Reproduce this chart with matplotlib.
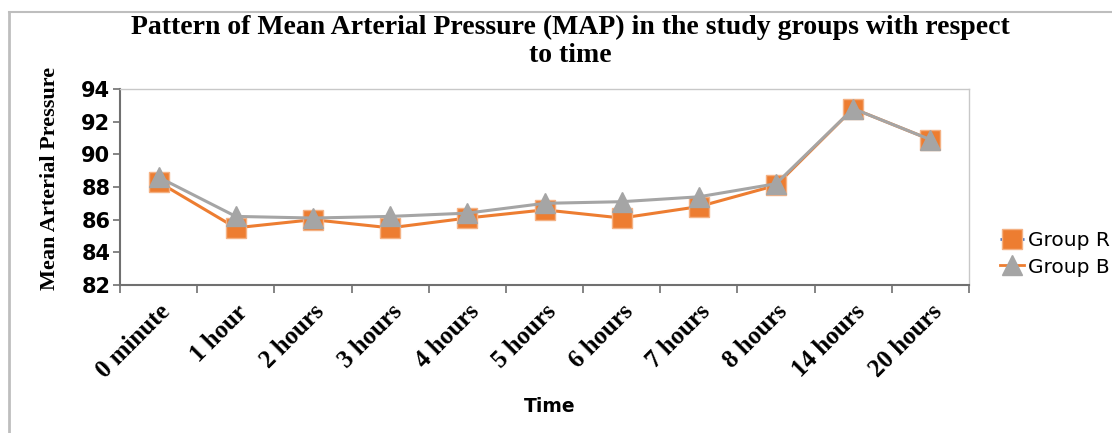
import matplotlib.pyplot as plt
from matplotlib.lines import Line2D
import numpy as np

# data
times = ["0 minute", "1 hour", "2 hours", "3 hours", "4 hours", "5 hours",
         "6 hours", "7 hours", "8 hours", "14 hours", "20 hours"]
group_r = [88.3, 85.5, 86.0, 85.5, 86.1, 86.6, 86.1, 86.8, 88.1, 92.8, 90.9]
group_b = [88.6, 86.2, 86.1, 86.2, 86.4, 87.0, 87.1, 87.4, 88.2, 92.8, 90.9]
y_ticks = [82, 84, 86, 88, 90, 92, 94]

orange = "#ED7D31"
grey = "#A5A5A5"
blue = "#4472C4"
serif = ["Liberation Serif", "DejaVu Serif"]

fig = plt.figure(figsize=(11.12, 4.33), dpi=100)
ax = fig.add_axes([120 / 1112, 1 - 285 / 433, 849 / 1112, 196 / 433])

x = np.arange(len(times))
ax.plot(x, group_r, color=orange, lw=2.2, marker="s", ms=15,
        mfc=orange, mec="#F4B183", mew=1, zorder=3)
ax.plot(x, group_b, color=grey, lw=2.2, marker="^", ms=15,
        mfc=grey, mec=grey, zorder=4)

ax.set_xlim(-0.5, len(times) - 0.5)
ax.set_ylim(82, 94)
ax.set_yticks(y_ticks)
ax.set_yticklabels([str(v) for v in y_ticks], fontweight="bold", fontsize=15)

ax.set_xticks(x)
ax.set_xticklabels(times, rotation=45, ha="right", rotation_mode="anchor",
                   fontweight="bold", fontsize=18, family=serif)
ax.set_xticks(np.arange(-0.5, len(times)), minor=True)
ax.tick_params(axis="x", which="major", length=0, pad=11)
ax.tick_params(axis="x", which="minor", length=6, color="#707070", width=1.2)
ax.tick_params(axis="y", length=5, color="#707070", width=1.2, pad=2)

for s in ["left", "bottom"]:
    ax.spines[s].set_color("#707070")
    ax.spines[s].set_linewidth(1.5)
for s in ["top", "right"]:
    ax.spines[s].set_color("#C8C8C8")
    ax.spines[s].set_linewidth(1)

fig.text(50 / 1112, 1 - 178 / 433, "Mean Arterial Pressure", rotation=90,
         ha="center", va="center", family=serif, fontweight="bold", fontsize=16)
fig.text(550 / 1112, 1 - 406 / 433, "Time", ha="center", va="center",
         fontweight="bold", fontsize=13.5)

fig.text(570 / 1112, 1 - 27 / 433,
         "Pattern of Mean Arterial Pressure (MAP) in the study groups with respect",
         ha="center", va="center", family=serif, fontweight="bold", fontsize=20)
fig.text(570 / 1112, 1 - 55 / 433, "to time", ha="center", va="center",
         family=serif, fontweight="bold", fontsize=20)

handles = [
    Line2D([], [], color=blue, lw=2, ls=":", marker="s", ms=14,
           mfc=orange, mec="#F4B183"),
    Line2D([], [], color=orange, lw=2, marker="^", ms=14,
           mfc=grey, mec=grey),
]
fig.legend(handles, ["Group R", "Group B"], loc="center left",
           bbox_to_anchor=(992 / 1112, 1 - 254 / 433), frameon=False,
           fontsize=14.5, handlelength=1.2, handletextpad=0.2,
           labelspacing=0.35, borderaxespad=0)

# outer chart frame
fig.add_artist(Line2D([9 / 1112, 9 / 1112], [0, 1 - 12 / 433],
                      transform=fig.transFigure, color="#BEBEBE", lw=2))
fig.add_artist(Line2D([9 / 1112, 1], [1 - 12 / 433, 1 - 12 / 433],
                      transform=fig.transFigure, color="#BEBEBE", lw=1.5))

fig.savefig("out.png", dpi=100)
